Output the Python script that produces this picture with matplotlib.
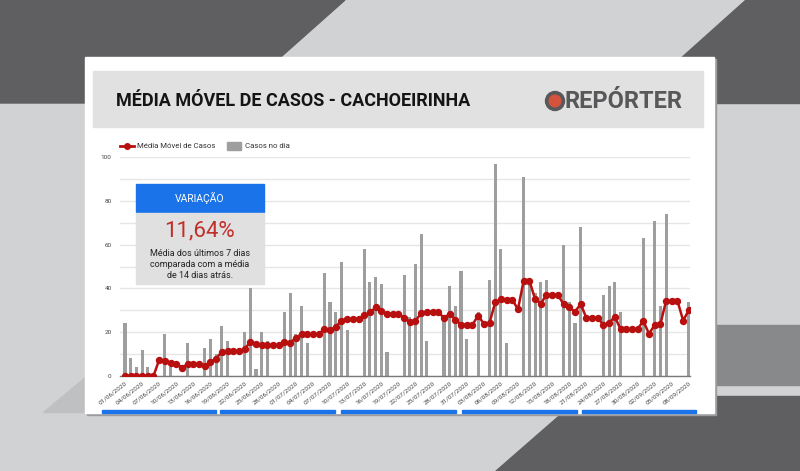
import matplotlib
matplotlib.use('Agg')
import matplotlib.pyplot as plt
import matplotlib.patches as mpatches
from matplotlib import font_manager
import pandas as pd

# casos diarios, 01/06/2020 a 08/09/2020
casos_dia = [24, 8, 4, 12, 4, 0, 0, 19, 4, 0,
             0, 15, 0, 0, 13, 17, 10, 23, 16, 0,
             0, 20, 40, 3, 20, 16, 0, 0, 29, 38,
             19, 32, 15, 0, 0, 47, 34, 29, 52, 21,
             0, 0, 58, 43, 45, 42, 11, 0, 0, 46,
             27, 51, 65, 16, 0, 0, 26, 41, 32, 48,
             17, 0, 29, 0, 44, 97, 58, 15, 0, 0,
             91, 44, 38, 43, 44, 0, 0, 60, 34, 24,
             68, 0, 0, 0, 37, 41, 43, 29, 0, 0,
             0, 63, 0, 71, 32, 74, 0, 0, 0, 34]

media_movel = [0, 0, 0, 0, 0, 0, 7.43, 6.71, 6.14, 5.57,
               3.86, 5.43, 5.43, 5.43, 4.57, 6.43, 7.86, 11.14, 11.29, 11.29,
               11.29, 12.29, 15.57, 14.57, 14.14, 14.14, 14.14, 14.14, 15.43, 15.14,
               17.43, 19.14, 19.0, 19.0, 19.0, 21.57, 21.0, 22.43, 25.29, 26.14,
               26.14, 26.14, 27.71, 29.0, 31.29, 29.86, 28.43, 28.43, 28.43, 26.71,
               24.43, 25.29, 28.57, 29.29, 29.29, 29.29, 26.43, 28.43, 25.71, 23.29,
               23.43, 23.43, 27.57, 23.86, 24.29, 33.57, 35.0, 34.71, 34.71, 30.57,
               43.57, 43.57, 35.14, 33.0, 37.14, 37.14, 37.14, 32.71, 31.29, 29.29,
               32.86, 26.57, 26.57, 26.57, 23.29, 24.29, 27.0, 21.43, 21.43, 21.43,
               21.43, 25.14, 19.29, 23.29, 23.71, 34.29, 34.29, 34.29, 25.29, 30.14]

datas = pd.date_range('2020-06-01', periods=len(casos_dia)).strftime('%d/%m/%Y').tolist()
y_ticks = [0, 20, 40, 60, 80, 100]
variacao = '11,64%'

nomes = {f.name for f in font_manager.fontManager.ttflist}
fonte = 'Roboto' if 'Roboto' in nomes else 'DejaVu Sans'
fonte_titulo = 'Liberation Sans Narrow' if 'Liberation Sans Narrow' in nomes else fonte
plt.rcParams['font.family'] = [fonte, 'DejaVu Sans']

W, H = 800, 471


def px_rect(x0, y0, x1, y1):
    return [x0 / W, 1 - y1 / H, (x1 - x0) / W, (y1 - y0) / H]


fig = plt.figure(figsize=(W / 100, H / 100), dpi=100)

# fundo
bg = fig.add_axes([0, 0, 1, 1])
bg.set_xlim(0, W)
bg.set_ylim(H, 0)
bg.axis('off')
bg.add_patch(mpatches.Rectangle((0, 0), W, H, color='#d1d2d4', zorder=0))
bg.add_patch(mpatches.Polygon([(0, 0), (345, 0), (229, 103), (0, 103)], color='#5f5f62', zorder=1))
bg.add_patch(mpatches.Polygon([(745, 0), (800, 0), (800, 103), (630, 103)], color='#5f5f62', zorder=1))
bg.add_patch(mpatches.Rectangle((700, 325), 100, 60, color='#88898b', zorder=1))
bg.add_patch(mpatches.Polygon([(581, 396), (800, 396), (800, 471), (495, 471)], color='#5f5f62', zorder=1))
bg.add_patch(mpatches.Polygon([(43, 412), (200, 412), (200, 281)], color='#bfc0c2', zorder=1))

# painel
bg.add_patch(mpatches.Rectangle((87, 59), 629, 356, color='#9c9c9e', zorder=2))
bg.add_patch(mpatches.Rectangle((85, 57), 629, 356, color='white', zorder=3))
bg.add_patch(mpatches.Rectangle((93, 71), 610, 56, color='#e1e1e1', zorder=4))
bg.text(116, 101, 'MÉDIA MÓVEL DE CASOS - CACHOEIRINHA', ha='left', va='center',
        fontsize=13, fontweight='bold', family=[fonte_titulo, 'DejaVu Sans'], color='#151515', zorder=5)

# logo
bg.add_patch(mpatches.Circle((555, 101), 9.5, color='#58585a', zorder=5))
bg.add_patch(mpatches.Circle((555, 101), 5.8, color='#d5533d', zorder=6))
bg.text(565, 102, 'REPÓRTER', ha='left', va='center', fontsize=17, fontweight='bold',
        color='#58585a', zorder=5)

# barras azuis no rodape
for x0, x1 in [(102, 216), (220, 335), (341, 456), (462, 577), (582, 696)]:
    bg.add_patch(mpatches.Rectangle((x0, 410), x1 - x0, 2.5, color='#1a73e8', zorder=5))

# legenda
bg.plot([120, 134], [146, 146], color='#b80f0f', lw=2, zorder=5)
bg.plot([127], [146], 'o', color='#b80f0f', ms=4, zorder=6)
bg.text(137, 146.5, 'Média Móvel de Casos', ha='left', va='center', fontsize=5.6, color='#333', zorder=5)
bg.add_patch(mpatches.Rectangle((227, 142), 14, 8, color='#9e9e9e', zorder=5))
bg.text(245, 146.5, 'Casos no dia', ha='left', va='center', fontsize=5.6, color='#333', zorder=5)

# grafico
ax = fig.add_axes(px_rect(120, 157, 690, 376))
ax.patch.set_alpha(0)
x = list(range(len(casos_dia)))
ax.bar(x, casos_dia, width=0.55, color='#9e9e9e', zorder=2)
ax.plot(x, media_movel, color='#b80f0f', lw=1.8, marker='o', ms=4.3, zorder=3)
ax.set_xlim(-0.88, 99.2)
ax.set_ylim(0, 100)
ax.set_yticks(range(0, 101, 10), minor=False)
ax.set_yticklabels([str(v) if v in y_ticks else '' for v in range(0, 101, 10)])
ax.grid(axis='y', color='#e6e6e6', lw=1, zorder=0)
ax.set_xticks(x[::3])
ax.set_xticklabels(datas[::3], rotation=38, ha='right', rotation_mode='anchor')
ax.tick_params(axis='both', length=0, labelsize=4.6, colors='#444')
ax.tick_params(axis='y', pad=6)
ax.tick_params(axis='x', pad=3)
for s in ['top', 'right', 'left']:
    ax.spines[s].set_visible(False)
ax.spines['bottom'].set_color('#7a7a7a')
ax.spines['bottom'].set_linewidth(1)

# caixa de variacao
bg2 = fig.add_axes([0, 0, 1, 1])
bg2.set_xlim(0, W)
bg2.set_ylim(H, 0)
bg2.axis('off')
bg2.patch.set_alpha(0)
bg2.add_patch(mpatches.Rectangle((136, 184), 128, 28, color='#1a73e8', zorder=2))
bg2.add_patch(mpatches.Rectangle((136, 213), 128, 71, color='#e0e0e0', zorder=2))
bg2.text(200, 198.5, 'VARIAÇÃO', ha='center', va='center', fontsize=7.5, color='white', zorder=3)
bg2.text(200, 231, variacao, ha='center', va='center', fontsize=16, color='#c0302a', zorder=3)
for i, linha in enumerate(['Média dos últimos 7 dias', 'comparada com a média', 'de 14 dias atrás.']):
    bg2.text(200, 253 + i * 11.3, linha, ha='center', va='center', fontsize=6.5, color='#222', zorder=3)

fig.savefig('out.png', dpi=100)
